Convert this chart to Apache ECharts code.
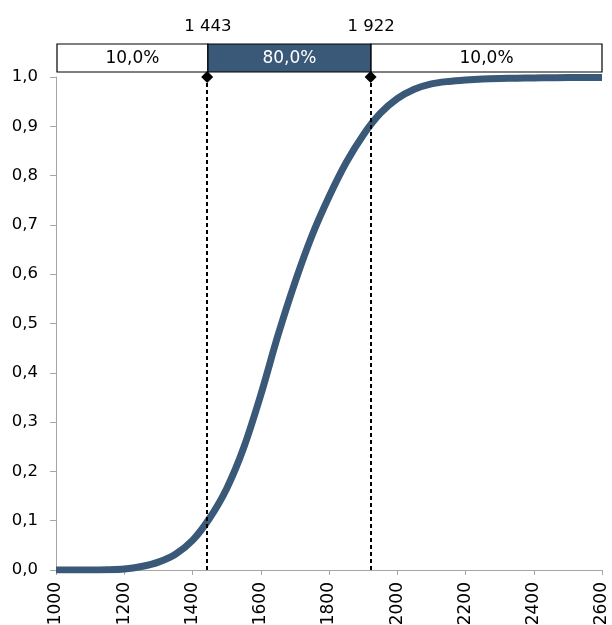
<!DOCTYPE html>
<html><head><meta charset="utf-8">
<script src="https://cdn.jsdelivr.net/npm/echarts@6/dist/echarts.min.js"></script>
<style>html,body{margin:0;padding:0;background:#fff}#c{width:612px;height:625px}</style>
</head><body><div id="c"></div>
<script>
const xValues = [1000,1050,1100,1150,1200,1250,1300,1350,1400,1450,1500,1550,1600,1650,1700,1750,1800,1850,1900,1950,2000,2050,2100,2150,2200,2250,2300,2350,2400,2450,2500,2550,2600];
const cdfValues = [0,0,0,0.0005,0.002,0.007,0.016,0.032,0.06,0.105,0.165,0.248,0.355,0.475,0.583,0.678,0.757,0.826,0.882,0.926,0.956,0.975,0.986,0.991,0.994,0.996,0.997,0.9975,0.998,0.9985,0.999,0.999,0.999];
const quantiles = [1443, 1922];
const quantileLabels = ['1 443', '1 922'];
const bandRanges = [[1000,1443],[1443,1922],[1922,2600]];
const bandLabels = ['10,0%','80,0%','10,0%'];
const yTicks = ['0,0','0,1','0,2','0,3','0,4','0,5','0,6','0,7','0,8','0,9','1,0'];

const BLUE = '#3a5878';
const FONT = 'DejaVu Sans';
const chart = echarts.init(document.getElementById('c'));
const bandData = bandRanges.map((r,i)=>[r[0],r[1],bandLabels[i],i===1?1:0]);
chart.setOption({
  animation:false,
  grid:[
    {left:56,right:10,top:77,bottom:55,containLabel:false,outerBoundsMode:'none'},
    {left:57,right:10,top:44,height:28,containLabel:false,outerBoundsMode:'none'}
  ],
  xAxis:[
    {type:'value',gridIndex:0,min:1000,max:2600,interval:200,
     axisLine:{lineStyle:{color:'#a6a6a6'}},axisTick:{length:5,lineStyle:{color:'#a6a6a6'}},
     splitLine:{show:false},
     axisLabel:{rotate:90,color:'#000',fontFamily:FONT,fontSize:17,margin:12,formatter:(v)=>String(v)}},
    {type:'value',gridIndex:1,min:1000,max:2600,show:false}
  ],
  yAxis:[
    {type:'value',gridIndex:0,min:0,max:1,interval:0.1,
     axisLine:{show:true,lineStyle:{color:'#a6a6a6'}},axisTick:{show:true,length:6,lineStyle:{color:'#a6a6a6'}},
     splitLine:{show:false},
     axisLabel:{color:'#000',fontFamily:FONT,fontSize:16.5,margin:18,formatter:(v)=>yTicks[Math.round(v*10)]}},
    {type:'value',gridIndex:1,min:0,max:1,show:false}
  ],
  series:[
    {type:'line',xAxisIndex:0,yAxisIndex:0,data:xValues.map((x,i)=>[x,cdfValues[i]]),
     smooth:0.3,showSymbol:false,lineStyle:{color:BLUE,width:7},z:3,
     markLine:{silent:true,symbol:['none','diamond'],symbolSize:12,
       lineStyle:{color:'#000',type:[4,3],width:2},label:{show:false},
       itemStyle:{color:'#000'},
       data:quantiles.map(q=>[{coord:[q,0]},{coord:[q,1]}])}},
    {type:'custom',xAxisIndex:1,yAxisIndex:1,data:bandData,
     renderItem:(params,api)=>{
       const p0=api.coord([api.value(0),1]);
       const p1=api.coord([api.value(1),0]);
       const dark=api.value(3)===1;
       const children=[{type:'rect',shape:{x:p0[0],y:p0[1],width:p1[0]-p0[0],height:p1[1]-p0[1]},
         style:{fill:dark?BLUE:'#fff',stroke:'#000',lineWidth:1.2}},
         {type:'text',style:{text:bandData[params.dataIndex][2],x:(p0[0]+p1[0])/2,y:(p0[1]+p1[1])/2+1,
           align:'center',verticalAlign:'middle',fill:dark?'#fff':'#000',font:'17px "DejaVu Sans"'}}];
       if(params.dataIndex>0){
         children.push({type:'text',style:{text:quantileLabels[params.dataIndex-1],x:p0[0],y:p0[1]-17,
           align:'center',verticalAlign:'middle',fill:'#000',font:'16.5px "DejaVu Sans"'}});
       }
       return {type:'group',children};
     }}
  ]
});
</script></body></html>
